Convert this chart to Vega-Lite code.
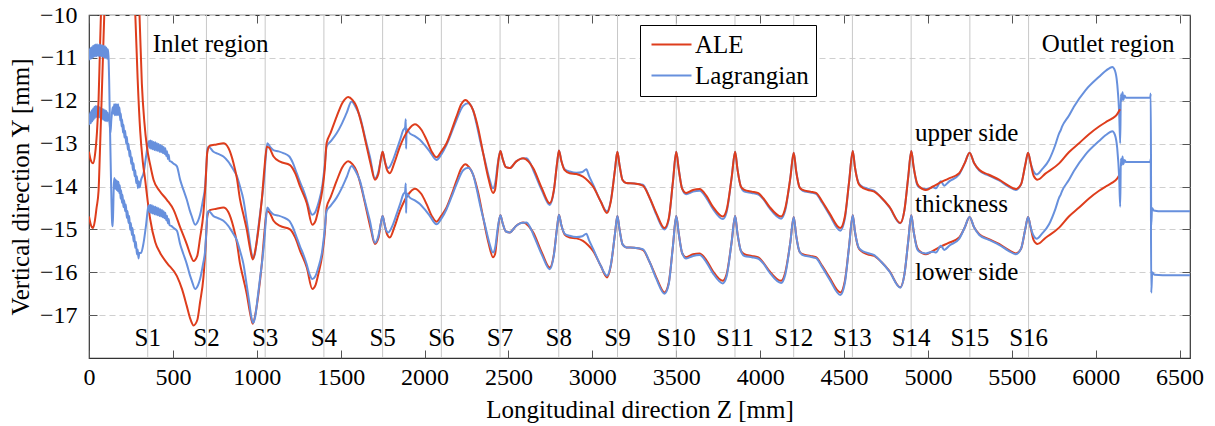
{
"$schema": "https://vega.github.io/schema/vega-lite/v6.json",
"autosize": {"type": "none"},
"padding": {"left": 89, "top": 15, "right": 25, "bottom": 68},
"width": 1101,
"height": 343,
"config": {
  "font": "'Liberation Serif', 'Times New Roman', serif",
  "view": {"stroke": "#333", "strokeWidth": 1.2},
  "axis": {"labelFont": "'Liberation Serif', 'Times New Roman', serif", "titleFont": "'Liberation Serif', 'Times New Roman', serif", "labelFontSize": 24, "titleFontSize": 25, "titleFontWeight": "normal", "labelColor": "#000", "titleColor": "#000", "tickColor": "#555", "domain": false, "grid": false},
  "legend": {"labelFont": "'Liberation Serif', 'Times New Roman', serif"},
  "text": {"font": "'Liberation Serif', 'Times New Roman', serif", "fontSize": 25, "color": "#000"}
},
"datasets": {
"S": [{"z":350,"t":"S1"},{"z":700,"t":"S2"},{"z":1050,"t":"S3"},{"z":1400,"t":"S4"},{"z":1750,"t":"S5"},{"z":2100,"t":"S6"},{"z":2450,"t":"S7"},{"z":2800,"t":"S8"},{"z":3150,"t":"S9"},{"z":3500,"t":"S10"},{"z":3850,"t":"S11"},{"z":4200,"t":"S12"},{"z":4550,"t":"S13"},{"z":4900,"t":"S14"},{"z":5250,"t":"S15"},{"z":5600,"t":"S16"}],
"notesC": [{"z":725,"y":-10.86,"t":"Inlet region"},{"z":6074,"y":-10.86,"t":"Outlet region"}],
"notesL": [{"z":4923,"y":-12.94,"t":"upper side"},{"z":4923,"y":-14.6,"t":"thickness"},{"z":4923,"y":-16.17,"t":"lower side"}],
"lagU": [
{"z":0,"y":-12.30},{"z":4,"y":-12.55},{"z":8,"y":-12.27},{"z":12,"y":-12.52},{"z":16,"y":-12.22},{"z":20,"y":-12.48},{"z":24,"y":-12.18},{"z":28,"y":-12.44},{"z":32,"y":-12.14},{"z":36,"y":-12.40},{"z":40,"y":-12.12},{"z":44,"y":-12.38},{"z":48,"y":-12.12},{"z":52,"y":-12.38},{"z":56,"y":-12.13},{"z":60,"y":-12.39},{"z":64,"y":-12.15},{"z":68,"y":-12.40},{"z":72,"y":-12.17},{"z":76,"y":-12.42},{"z":80,"y":-12.19},{"z":84,"y":-12.44},{"z":88,"y":-12.20},{"z":92,"y":-12.46},{"z":96,"y":-12.22},{"z":100,"y":-12.47},{"z":104,"y":-12.24},{"z":108,"y":-12.48},{"z":112,"y":-12.28},{"z":116,"y":-12.42},{"z":122,"y":-12.5},{"z":128,"y":-12.75},{"z":133,"y":-12.45},{"z":138,"y":-12.25},{"z":142,"y":-12.15},{"z":146,"y":-12.3},{"z":150,"y":-12.08},{"z":154,"y":-12.34},{"z":158,"y":-12.08},{"z":162,"y":-12.34},{"z":166,"y":-12.08},{"z":170,"y":-12.33},{"z":174,"y":-12.08},{"z":178,"y":-12.34},{"z":182,"y":-12.16},{"z":186,"y":-12.46},{"z":190,"y":-12.30},{"z":194,"y":-12.60},{"z":198,"y":-12.44},{"z":202,"y":-12.74},{"z":206,"y":-12.56},{"z":211,"y":-12.86},{"z":216,"y":-12.70},{"z":221,"y":-13.00},{"z":226,"y":-12.84},{"z":231,"y":-13.14},{"z":236,"y":-13.00},{"z":241,"y":-13.30},{"z":246,"y":-13.16},{"z":251,"y":-13.47},{"z":256,"y":-13.32},{"z":261,"y":-13.62},{"z":266,"y":-13.46},{"z":271,"y":-13.76},{"z":276,"y":-13.62},{"z":281,"y":-13.92},{"z":286,"y":-13.76},{"z":291,"y":-14.04},{"z":296,"y":-13.88},{"z":302,"y":-14.02},{"z":310,"y":-13.85},{"z":325,"y":-13.69},{"z":340,"y":-13.3},{"z":352,"y":-13.0},{"z":358,"y":-12.94},{"z":362,"y":-13.10},{"z":366,"y":-12.93},{"z":370,"y":-13.12},{"z":375,"y":-12.94},{"z":380,"y":-13.13},{"z":385,"y":-12.96},{"z":390,"y":-13.15},{"z":395,"y":-12.97},{"z":400,"y":-13.16},{"z":405,"y":-12.99},{"z":410,"y":-13.17},{"z":415,"y":-13.01},{"z":420,"y":-13.19},{"z":425,"y":-13.03},{"z":430,"y":-13.20},{"z":435,"y":-13.05},{"z":440,"y":-13.22},{"z":445,"y":-13.08},{"z":450,"y":-13.24},{"z":455,"y":-13.11},{"z":460,"y":-13.29},{"z":465,"y":-13.18},{"z":470,"y":-13.36},{"z":475,"y":-13.26},{"z":480,"y":-13.40},{"z":490,"y":-13.42},{"z":505,"y":-13.47},{"z":524,"y":-13.53},
{"z":543,"y":-13.84},{"z":563,"y":-14.08},{"z":583,"y":-14.31},{"z":600,"y":-14.55},{"z":613,"y":-14.70},{"z":633,"y":-14.89},{"z":650,"y":-14.80},{"z":662,"y":-14.66},{"z":680,"y":-14.30},{"z":692,"y":-14.0},{"z":700,"y":-13.5},{"z":706,"y":-13.12},{"z":712,"y":-13.07},{"z":742,"y":-13.19},{"z":770,"y":-13.24},{"z":801,"y":-13.30},{"z":830,"y":-13.42},{"z":861,"y":-13.61},{"z":881,"y":-13.75},{"z":900,"y":-14.0},{"z":920,"y":-14.3},{"z":940,"y":-14.8},{"z":955,"y":-15.2},{"z":968,"y":-15.55},{"z":978,"y":-15.68},{"z":990,"y":-15.55},{"z":1005,"y":-15.1},{"z":1020,"y":-14.62},{"z":1035,"y":-14.15},{"z":1045,"y":-13.75},{"z":1055,"y":-13.25},{"z":1063,"y":-12.99},{"z":1080,"y":-13.08},{"z":1099,"y":-13.15},{"z":1130,"y":-13.18},{"z":1158,"y":-13.22},{"z":1194,"y":-13.30},{"z":1215,"y":-13.45},{"z":1238,"y":-13.69},{"z":1258,"y":-13.9},{"z":1277,"y":-14.08},{"z":1297,"y":-14.31},{"z":1315,"y":-14.55},{"z":1331,"y":-14.66},{"z":1348,"y":-14.6},{"z":1367,"y":-14.39},{"z":1390,"y":-14.0},{"z":1405,"y":-13.5},{"z":1416,"y":-13.07},{"z":1440,"y":-12.95},{"z":1476,"y":-12.76},{"z":1505,"y":-12.55},{"z":1535,"y":-12.29},{"z":1565,"y":-12.02},{"z":1590,"y":-12.15},{"z":1615,"y":-12.37},{"z":1645,"y":-12.85},{"z":1674,"y":-13.30},{"z":1704,"y":-13.81},{"z":1725,"y":-13.65},{"z":1740,"y":-13.35},{"z":1750,"y":-13.19},{"z":1765,"y":-13.45},{"z":1784,"y":-13.57},{"z":1810,"y":-13.4},{"z":1833,"y":-13.15},{"z":1855,"y":-12.9},{"z":1873,"y":-12.68},{"z":1884,"y":-12.62},{"z":1888,"y":-12.43},{"z":1890,"y":-13.12},{"z":1893,"y":-12.66},{"z":1912,"y":-12.76},{"z":1940,"y":-12.82},{"z":1972,"y":-12.91},{"z":2000,"y":-13.03},{"z":2032,"y":-13.19},{"z":2071,"y":-13.38},{"z":2100,"y":-13.25},{"z":2131,"y":-13.03},{"z":2160,"y":-12.75},{"z":2190,"y":-12.45},{"z":2230,"y":-12.12},{"z":2260,"y":-12.06},{"z":2289,"y":-12.22},{"z":2309,"y":-12.53},{"z":2335,"y":-13.0},{"z":2359,"y":-13.38},{"z":2385,"y":-13.8},{"z":2408,"y":-14.04},{"z":2422,"y":-13.9},{"z":2435,"y":-13.5},{"z":2452,"y":-13.17},{"z":2465,"y":-13.35},{"z":2485,"y":-13.55},{"z":2508,"y":-13.57},{"z":2545,"y":-13.42},{"z":2575,"y":-13.35},{"z":2607,"y":-13.34},{"z":2625,"y":-13.42},{"z":2647,"y":-13.61},{"z":2700,"y":-14.1},{"z":2746,"y":-14.43},{"z":2770,"y":-14.12},{"z":2790,"y":-13.45},{"z":2801,"y":-13.16},{"z":2815,"y":-13.4},{"z":2835,"y":-13.6},{"z":2865,"y":-13.65},{"z":2905,"y":-13.68},{"z":2940,"y":-13.66},{"z":2964,"y":-13.60},{"z":2980,"y":-13.75},{"z":3004,"y":-13.95},{"z":3050,"y":-14.35},{"z":3087,"y":-14.58},{"z":3110,"y":-14.33},{"z":3135,"y":-13.6},{"z":3149,"y":-13.19},{"z":3162,"y":-13.5},{"z":3180,"y":-13.85},{"z":3202,"y":-13.92},{"z":3250,"y":-13.93},{"z":3301,"y":-13.96},{"z":3340,"y":-14.25},{"z":3381,"y":-14.65},{"z":3430,"y":-15.0},{"z":3455,"y":-14.78},{"z":3480,"y":-13.9},{"z":3500,"y":-13.19},{"z":3515,"y":-13.6},{"z":3535,"y":-14.05},{"z":3559,"y":-14.18},{"z":3600,"y":-14.12},{"z":3639,"y":-14.10},{"z":3680,"y":-14.27},{"z":3718,"y":-14.52},{"z":3778,"y":-14.76},{"z":3800,"y":-14.6},{"z":3830,"y":-13.8},{"z":3851,"y":-13.19},{"z":3865,"y":-13.6},{"z":3885,"y":-14.0},{"z":3906,"y":-14.12},{"z":3950,"y":-14.15},{"z":3986,"y":-14.18},{"z":4020,"y":-14.3},{"z":4055,"y":-14.5},{"z":4125,"y":-14.75},{"z":4150,"y":-14.55},{"z":4180,"y":-13.8},{"z":4200,"y":-13.21},{"z":4215,"y":-13.65},{"z":4235,"y":-14.02},{"z":4254,"y":-14.1},{"z":4300,"y":-14.14},{"z":4333,"y":-14.17},{"z":4370,"y":-14.38},{"z":4413,"y":-14.66},{"z":4478,"y":-15.03},{"z":4505,"y":-14.75},{"z":4530,"y":-13.9},{"z":4552,"y":-13.17},{"z":4565,"y":-13.55},{"z":4585,"y":-13.9},{"z":4601,"y":-13.98},{"z":4640,"y":-14.05},{"z":4680,"y":-14.1},{"z":4720,"y":-14.25},{"z":4770,"y":-14.48},{"z":4835,"y":-14.86},{"z":4860,"y":-14.55},{"z":4882,"y":-13.8},{"z":4901,"y":-13.17},{"z":4915,"y":-13.55},{"z":4935,"y":-13.95},{"z":4948,"y":-14.02},{"z":4988,"y":-14.06},{"z":5030,"y":-14.02},{"z":5048,"y":-14.04},{"z":5077,"y":-13.88},{"z":5097,"y":-13.98},{"z":5127,"y":-13.88},{"z":5186,"y":-13.72},{"z":5220,"y":-13.45},{"z":5248,"y":-13.21},{"z":5275,"y":-13.45},{"z":5306,"y":-13.63},{"z":5360,"y":-13.74},{"z":5424,"y":-13.86},{"z":5480,"y":-14.0},{"z":5524,"y":-14.08},{"z":5555,"y":-13.95},{"z":5580,"y":-13.5},{"z":5597,"y":-13.21},{"z":5612,"y":-13.45},{"z":5630,"y":-13.65},{"z":5648,"y":-13.72},{"z":5680,"y":-13.6},{"z":5722,"y":-13.38},{"z":5760,"y":-13.02},{"z":5782,"y":-12.76},{"z":5790,"y":-12.7},{"z":5800,"y":-12.6},{"z":5840,"y":-12.35},{"z":5870,"y":-12.14},{"z":5940,"y":-11.75},{"z":6020,"y":-11.44},{"z":6060,"y":-11.3},{"z":6099,"y":-11.21},{"z":6115,"y":-11.30},{"z":6128,"y":-11.6},{"z":6140,"y":-12.3},{"z":6146,"y":-12.99},{"z":6150,"y":-11.85},{"z":6155,"y":-12.0},{"z":6160,"y":-11.8},{"z":6165,"y":-11.98},{"z":6172,"y":-11.88},{"z":6180,"y":-11.93},{"z":6325,"y":-11.93},{"z":6328,"y":-11.83},{"z":6331,"y":-14.9},{"z":6336,"y":-14.5},{"z":6345,"y":-14.56},{"z":6400,"y":-14.58},{"z":6562,"y":-14.58}
],
"aleU": [
{"z":0,"y":-13.19},{"z":10,"y":-13.38},{"z":24,"y":-13.46},{"z":36,"y":-13.25},{"z":47,"y":-12.76},{"z":57,"y":-11.98},{"z":64,"y":-11.0},{"z":71,"y":-10.0},{"z":91,"y":-8.5},{"z":130,"y":-6.8},{"z":185,"y":-6.2},{"z":240,"y":-7.0},{"z":276,"y":-8.5},{"z":301,"y":-10.0},{"z":315,"y":-11.6},{"z":330,"y":-12.5},{"z":345,"y":-13.07},{"z":365,"y":-13.5},{"z":385,"y":-13.85},{"z":420,"y":-14.1},{"z":464,"y":-14.31},{"z":505,"y":-14.55},{"z":543,"y":-14.95},{"z":583,"y":-15.35},{"z":605,"y":-15.6},{"z":623,"y":-15.74},
{"z":645,"y":-15.62},{"z":662,"y":-15.2},{"z":682,"y":-14.62},{"z":695,"y":-13.9},{"z":705,"y":-13.2},{"z":720,"y":-13.05},{"z":760,"y":-13.02},{"z":801,"y":-12.99},{"z":831,"y":-13.1},{"z":861,"y":-13.45},{"z":881,"y":-13.8},{"z":900,"y":-14.3},{"z":920,"y":-14.65},{"z":940,"y":-15.0},{"z":960,"y":-15.45},{"z":976,"y":-15.7},{"z":993,"y":-15.45},{"z":1010,"y":-15.0},{"z":1030,"y":-14.3},{"z":1045,"y":-13.6},{"z":1060,"y":-13.07},{"z":1075,"y":-13.1},{"z":1100,"y":-13.3},{"z":1139,"y":-13.42},{"z":1198,"y":-13.5},{"z":1230,"y":-13.7},{"z":1258,"y":-14.0},{"z":1298,"y":-14.39},{"z":1331,"y":-14.89},{"z":1350,"y":-14.8},{"z":1367,"y":-14.54},{"z":1390,"y":-14.1},{"z":1405,"y":-13.6},{"z":1416,"y":-12.99},{"z":1440,"y":-12.75},{"z":1476,"y":-12.37},{"z":1510,"y":-12.05},{"z":1545,"y":-11.91},{"z":1570,"y":-11.98},{"z":1595,"y":-12.14},{"z":1625,"y":-12.55},{"z":1655,"y":-13.07},{"z":1680,"y":-13.5},{"z":1704,"y":-13.84},{"z":1725,"y":-13.7},{"z":1740,"y":-13.35},{"z":1750,"y":-13.19},{"z":1760,"y":-13.35},{"z":1775,"y":-13.6},{"z":1793,"y":-13.69},{"z":1820,"y":-13.45},{"z":1853,"y":-13.07},{"z":1900,"y":-12.7},{"z":1942,"y":-12.55},{"z":1980,"y":-12.67},{"z":2012,"y":-12.91},{"z":2045,"y":-13.2},{"z":2071,"y":-13.32},{"z":2100,"y":-13.18},{"z":2131,"y":-12.99},{"z":2160,"y":-12.7},{"z":2190,"y":-12.37},{"z":2220,"y":-12.07},{"z":2244,"y":-11.98},{"z":2265,"y":-12.05},{"z":2289,"y":-12.22},{"z":2320,"y":-12.65},{"z":2349,"y":-13.22},{"z":2380,"y":-13.8},{"z":2408,"y":-14.15},{"z":2420,"y":-14.08},{"z":2428,"y":-13.84},{"z":2440,"y":-13.4},{"z":2452,"y":-13.17},{"z":2465,"y":-13.35},{"z":2485,"y":-13.55},{"z":2508,"y":-13.57},{"z":2545,"y":-13.42},{"z":2587,"y":-13.34},{"z":2620,"y":-13.42},{"z":2647,"y":-13.57},{"z":2700,"y":-14.05},{"z":2746,"y":-14.39},{"z":2770,"y":-14.1},{"z":2790,"y":-13.45},{"z":2801,"y":-13.16},{"z":2815,"y":-13.4},{"z":2835,"y":-13.62},{"z":2865,"y":-13.69},{"z":2905,"y":-13.71},{"z":2944,"y":-13.77},{"z":2975,"y":-13.87},{"z":3004,"y":-14.0},{"z":3050,"y":-14.35},{"z":3087,"y":-14.62},{"z":3110,"y":-14.35},{"z":3135,"y":-13.6},{"z":3149,"y":-13.19},{"z":3162,"y":-13.5},{"z":3180,"y":-13.85},{"z":3202,"y":-13.92},{"z":3250,"y":-13.93},{"z":3301,"y":-13.98},{"z":3340,"y":-14.25},{"z":3381,"y":-14.62},{"z":3430,"y":-14.97},{"z":3455,"y":-14.75},{"z":3480,"y":-13.9},{"z":3500,"y":-13.19},{"z":3515,"y":-13.6},{"z":3535,"y":-14.05},{"z":3559,"y":-14.15},{"z":3600,"y":-14.08},{"z":3639,"y":-14.06},{"z":3680,"y":-14.22},{"z":3718,"y":-14.47},{"z":3778,"y":-14.70},{"z":3800,"y":-14.55},{"z":3830,"y":-13.8},{"z":3851,"y":-13.19},{"z":3865,"y":-13.6},{"z":3885,"y":-14.0},{"z":3906,"y":-14.08},{"z":3950,"y":-14.12},{"z":3986,"y":-14.15},{"z":4020,"y":-14.28},{"z":4055,"y":-14.47},{"z":4125,"y":-14.70},{"z":4150,"y":-14.5},{"z":4180,"y":-13.8},{"z":4200,"y":-13.21},{"z":4215,"y":-13.65},{"z":4235,"y":-14.02},{"z":4254,"y":-14.08},{"z":4300,"y":-14.12},{"z":4333,"y":-14.15},{"z":4370,"y":-14.35},{"z":4413,"y":-14.62},{"z":4478,"y":-14.97},{"z":4505,"y":-14.7},{"z":4530,"y":-13.9},{"z":4552,"y":-13.17},{"z":4565,"y":-13.55},{"z":4585,"y":-13.92},{"z":4601,"y":-14.0},{"z":4640,"y":-14.08},{"z":4680,"y":-14.12},{"z":4720,"y":-14.25},{"z":4770,"y":-14.47},{"z":4835,"y":-14.85},{"z":4860,"y":-14.55},{"z":4882,"y":-13.8},{"z":4901,"y":-13.17},{"z":4915,"y":-13.55},{"z":4935,"y":-13.92},{"z":4948,"y":-14.0},{"z":4988,"y":-14.08},{"z":5030,"y":-14.0},{"z":5067,"y":-13.92},{"z":5120,"y":-13.82},{"z":5186,"y":-13.69},{"z":5220,"y":-13.45},{"z":5248,"y":-13.21},{"z":5275,"y":-13.45},{"z":5306,"y":-13.61},{"z":5360,"y":-13.72},{"z":5424,"y":-13.84},{"z":5480,"y":-13.98},{"z":5524,"y":-14.06},{"z":5555,"y":-13.95},{"z":5580,"y":-13.5},{"z":5597,"y":-13.21},{"z":5612,"y":-13.45},{"z":5630,"y":-13.75},{"z":5653,"y":-13.84},{"z":5700,"y":-13.7},{"z":5782,"y":-13.46},{"z":5840,"y":-13.2},{"z":5901,"y":-12.99},{"z":5960,"y":-12.78},{"z":6020,"y":-12.60},{"z":6060,"y":-12.5},{"z":6099,"y":-12.41},{"z":6125,"y":-12.33},{"z":6145,"y":-12.20}
],
"aleL": [
{"z":0,"y":-14.70},{"z":10,"y":-14.88},{"z":24,"y":-14.97},{"z":35,"y":-14.8},{"z":45,"y":-14.5},{"z":57,"y":-14.1},{"z":65,"y":-13.2},{"z":75,"y":-12.0},{"z":83,"y":-11.0},{"z":91,"y":-10.0},{"z":110,"y":-8.3},{"z":150,"y":-7.2},{"z":200,"y":-7.3},{"z":250,"y":-8.5},{"z":276,"y":-10.0},{"z":290,"y":-11.5},{"z":305,"y":-12.7},{"z":320,"y":-13.4},{"z":335,"y":-13.85},{"z":350,"y":-14.35},{"z":365,"y":-14.77},{"z":395,"y":-15.3},{"z":424,"y":-15.55},{"z":464,"y":-15.78},{"z":524,"y":-16.09},{"z":555,"y":-16.4},{"z":583,"y":-16.79},{"z":605,"y":-17.1},{"z":623,"y":-17.24},
{"z":645,"y":-17.12},{"z":662,"y":-16.7},{"z":682,"y":-16.12},{"z":695,"y":-15.4},{"z":705,"y":-14.7},{"z":720,"y":-14.55},{"z":760,"y":-14.52},{"z":801,"y":-14.49},{"z":831,"y":-14.6},{"z":861,"y":-14.95},{"z":881,"y":-15.3},{"z":900,"y":-15.8},{"z":920,"y":-16.15},{"z":940,"y":-16.5},{"z":960,"y":-16.95},{"z":976,"y":-17.2},{"z":993,"y":-16.95},{"z":1010,"y":-16.5},{"z":1030,"y":-15.8},{"z":1045,"y":-15.1},{"z":1060,"y":-14.57},{"z":1075,"y":-14.6},{"z":1100,"y":-14.8},{"z":1139,"y":-14.92},{"z":1198,"y":-15.0},{"z":1230,"y":-15.2},{"z":1258,"y":-15.5},{"z":1298,"y":-15.89},{"z":1331,"y":-16.39},{"z":1350,"y":-16.3},{"z":1367,"y":-16.04},{"z":1390,"y":-15.6},{"z":1405,"y":-15.1},{"z":1416,"y":-14.49},{"z":1440,"y":-14.25},{"z":1476,"y":-13.87},{"z":1510,"y":-13.55},{"z":1545,"y":-13.41},{"z":1570,"y":-13.48},{"z":1595,"y":-13.64},{"z":1625,"y":-14.05},{"z":1655,"y":-14.57},{"z":1680,"y":-15.0},{"z":1704,"y":-15.34},{"z":1725,"y":-15.2},{"z":1740,"y":-14.85},{"z":1750,"y":-14.69},{"z":1760,"y":-14.85},{"z":1775,"y":-15.1},{"z":1793,"y":-15.19},{"z":1820,"y":-14.95},{"z":1853,"y":-14.57},{"z":1900,"y":-14.2},{"z":1942,"y":-14.05},{"z":1980,"y":-14.17},{"z":2012,"y":-14.41},{"z":2045,"y":-14.7},{"z":2071,"y":-14.82},{"z":2100,"y":-14.68},{"z":2131,"y":-14.49},{"z":2160,"y":-14.2},{"z":2190,"y":-13.87},{"z":2220,"y":-13.57},{"z":2244,"y":-13.48},{"z":2265,"y":-13.55},{"z":2289,"y":-13.72},{"z":2320,"y":-14.15},{"z":2349,"y":-14.72},{"z":2380,"y":-15.3},{"z":2408,"y":-15.65},{"z":2420,"y":-15.58},{"z":2428,"y":-15.34},{"z":2440,"y":-14.9},{"z":2452,"y":-14.67},{"z":2465,"y":-14.85},{"z":2485,"y":-15.05},{"z":2508,"y":-15.07},{"z":2545,"y":-14.92},{"z":2587,"y":-14.84},{"z":2620,"y":-14.92},{"z":2647,"y":-15.07},{"z":2700,"y":-15.55},{"z":2746,"y":-15.89},{"z":2770,"y":-15.6},{"z":2790,"y":-14.95},{"z":2801,"y":-14.66},{"z":2815,"y":-14.9},{"z":2835,"y":-15.12},{"z":2865,"y":-15.19},{"z":2905,"y":-15.21},{"z":2944,"y":-15.27},{"z":2975,"y":-15.37},{"z":3004,"y":-15.5},{"z":3050,"y":-15.85},{"z":3087,"y":-16.12},{"z":3110,"y":-15.85},{"z":3135,"y":-15.1},{"z":3149,"y":-14.69},{"z":3162,"y":-15.0},{"z":3180,"y":-15.35},{"z":3202,"y":-15.42},{"z":3250,"y":-15.43},{"z":3301,"y":-15.48},{"z":3340,"y":-15.75},{"z":3381,"y":-16.12},{"z":3430,"y":-16.47},{"z":3455,"y":-16.25},{"z":3480,"y":-15.4},{"z":3500,"y":-14.69},{"z":3515,"y":-15.1},{"z":3535,"y":-15.55},{"z":3559,"y":-15.65},{"z":3600,"y":-15.58},{"z":3639,"y":-15.56},{"z":3680,"y":-15.72},{"z":3718,"y":-15.97},{"z":3778,"y":-16.2},{"z":3800,"y":-16.05},{"z":3830,"y":-15.3},{"z":3851,"y":-14.69},{"z":3865,"y":-15.1},{"z":3885,"y":-15.5},{"z":3906,"y":-15.58},{"z":3950,"y":-15.62},{"z":3986,"y":-15.65},{"z":4020,"y":-15.78},{"z":4055,"y":-15.97},{"z":4125,"y":-16.2},{"z":4150,"y":-16.0},{"z":4180,"y":-15.3},{"z":4200,"y":-14.71},{"z":4215,"y":-15.15},{"z":4235,"y":-15.52},{"z":4254,"y":-15.58},{"z":4300,"y":-15.62},{"z":4333,"y":-15.65},{"z":4370,"y":-15.85},{"z":4413,"y":-16.12},{"z":4478,"y":-16.47},{"z":4505,"y":-16.2},{"z":4530,"y":-15.4},{"z":4552,"y":-14.67},{"z":4565,"y":-15.05},{"z":4585,"y":-15.42},{"z":4601,"y":-15.5},{"z":4640,"y":-15.58},{"z":4680,"y":-15.62},{"z":4720,"y":-15.75},{"z":4770,"y":-15.97},{"z":4835,"y":-16.35},{"z":4860,"y":-16.05},{"z":4882,"y":-15.3},{"z":4901,"y":-14.67},{"z":4915,"y":-15.05},{"z":4935,"y":-15.42},{"z":4948,"y":-15.5},{"z":4988,"y":-15.58},{"z":5030,"y":-15.5},{"z":5067,"y":-15.42},{"z":5120,"y":-15.32},{"z":5186,"y":-15.19},{"z":5220,"y":-14.95},{"z":5248,"y":-14.71},{"z":5275,"y":-14.95},{"z":5306,"y":-15.11},{"z":5360,"y":-15.22},{"z":5424,"y":-15.34},{"z":5480,"y":-15.48},{"z":5524,"y":-15.56},{"z":5555,"y":-15.45},{"z":5580,"y":-15.0},{"z":5597,"y":-14.71},{"z":5612,"y":-14.95},{"z":5630,"y":-15.25},{"z":5653,"y":-15.34},{"z":5700,"y":-15.2},{"z":5782,"y":-14.96},{"z":5840,"y":-14.7},{"z":5901,"y":-14.49},{"z":5960,"y":-14.28},{"z":6020,"y":-14.1},{"z":6060,"y":-14.0},{"z":6099,"y":-13.91},{"z":6125,"y":-13.83},{"z":6145,"y":-13.70}
],
"lagL": [
{"z":0,"y":-10.79},{"z":4,"y":-11.04},{"z":8,"y":-10.77},{"z":12,"y":-11.02},{"z":16,"y":-10.75},{"z":20,"y":-11.00},{"z":24,"y":-10.72},{"z":28,"y":-10.98},{"z":32,"y":-10.70},{"z":36,"y":-10.97},{"z":40,"y":-10.69},{"z":44,"y":-10.96},{"z":48,"y":-10.68},{"z":52,"y":-10.95},{"z":56,"y":-10.70},{"z":60,"y":-10.96},{"z":64,"y":-10.68},{"z":68,"y":-10.95},{"z":72,"y":-10.70},{"z":76,"y":-10.97},{"z":80,"y":-10.71},{"z":84,"y":-10.98},{"z":88,"y":-10.72},{"z":92,"y":-10.99},{"z":96,"y":-10.73},{"z":100,"y":-11.00},{"z":104,"y":-10.76},{"z":108,"y":-11.02},{"z":112,"y":-10.80},{"z":116,"y":-10.95},{"z":120,"y":-11.5},{"z":126,"y":-12.8},{"z":132,"y":-14.0},{"z":138,"y":-14.85},{"z":141,"y":-14.93},{"z":144,"y":-14.6},{"z":148,"y":-13.95},{"z":152,"y":-13.80},{"z":156,"y":-14.05},{"z":160,"y":-13.84},{"z":164,"y":-14.08},{"z":168,"y":-13.87},{"z":172,"y":-14.11},{"z":176,"y":-13.89},{"z":180,"y":-14.15},{"z":184,"y":-13.97},{"z":188,"y":-14.28},{"z":192,"y":-14.09},{"z":196,"y":-14.38},{"z":200,"y":-14.19},{"z":205,"y":-14.48},{"z":210,"y":-14.32},{"z":215,"y":-14.58},{"z":220,"y":-14.42},{"z":225,"y":-14.73},{"z":230,"y":-14.57},{"z":235,"y":-14.85},{"z":240,"y":-14.69},{"z":245,"y":-15.01},{"z":250,"y":-14.85},{"z":255,"y":-15.13},{"z":260,"y":-14.97},{"z":265,"y":-15.28},{"z":270,"y":-15.13},{"z":275,"y":-15.43},{"z":280,"y":-15.29},{"z":285,"y":-15.58},{"z":290,"y":-15.47},{"z":295,"y":-15.68},{"z":300,"y":-15.55},{"z":310,"y":-15.55},{"z":325,"y":-15.32},{"z":340,"y":-14.9},{"z":352,"y":-14.5},{"z":358,"y":-14.44},{"z":362,"y":-14.60},{"z":366,"y":-14.43},{"z":370,"y":-14.62},{"z":375,"y":-14.44},{"z":380,"y":-14.63},{"z":385,"y":-14.46},{"z":390,"y":-14.65},{"z":395,"y":-14.47},{"z":400,"y":-14.66},{"z":405,"y":-14.49},{"z":410,"y":-14.67},{"z":415,"y":-14.51},{"z":420,"y":-14.69},{"z":425,"y":-14.53},{"z":430,"y":-14.70},{"z":435,"y":-14.55},{"z":440,"y":-14.72},{"z":445,"y":-14.58},{"z":450,"y":-14.74},{"z":455,"y":-14.61},{"z":460,"y":-14.79},{"z":465,"y":-14.68},{"z":470,"y":-14.86},{"z":475,"y":-14.76},{"z":480,"y":-14.90},{"z":490,"y":-14.92},{"z":505,"y":-14.97},{"z":524,"y":-15.03},
{"z":543,"y":-15.34},{"z":563,"y":-15.58},{"z":583,"y":-15.81},{"z":600,"y":-16.05},{"z":613,"y":-16.20},{"z":633,"y":-16.39},{"z":650,"y":-16.30},{"z":662,"y":-16.16},{"z":680,"y":-15.80},{"z":692,"y":-15.5},{"z":700,"y":-15.0},{"z":706,"y":-14.62},{"z":712,"y":-14.57},{"z":742,"y":-14.69},{"z":770,"y":-14.74},{"z":801,"y":-14.80},{"z":830,"y":-14.92},{"z":861,"y":-15.11},{"z":881,"y":-15.25},{"z":900,"y":-15.5},{"z":920,"y":-15.8},{"z":940,"y":-16.3},{"z":955,"y":-16.7},{"z":968,"y":-17.05},{"z":978,"y":-17.18},{"z":990,"y":-17.05},{"z":1005,"y":-16.6},{"z":1020,"y":-16.12},{"z":1035,"y":-15.65},{"z":1045,"y":-15.25},{"z":1055,"y":-14.75},{"z":1063,"y":-14.49},{"z":1080,"y":-14.58},{"z":1099,"y":-14.65},{"z":1130,"y":-14.68},{"z":1158,"y":-14.72},{"z":1194,"y":-14.80},{"z":1215,"y":-14.95},{"z":1238,"y":-15.19},{"z":1258,"y":-15.4},{"z":1277,"y":-15.58},{"z":1297,"y":-15.81},{"z":1315,"y":-16.05},{"z":1331,"y":-16.16},{"z":1348,"y":-16.1},{"z":1367,"y":-15.89},{"z":1390,"y":-15.5},{"z":1405,"y":-15.0},{"z":1416,"y":-14.57},{"z":1440,"y":-14.45},{"z":1476,"y":-14.26},{"z":1505,"y":-14.05},{"z":1535,"y":-13.79},{"z":1565,"y":-13.52},{"z":1590,"y":-13.65},{"z":1615,"y":-13.87},{"z":1645,"y":-14.35},{"z":1674,"y":-14.80},{"z":1704,"y":-15.31},{"z":1725,"y":-15.15},{"z":1740,"y":-14.85},{"z":1750,"y":-14.69},{"z":1765,"y":-14.95},{"z":1784,"y":-15.07},{"z":1810,"y":-14.9},{"z":1833,"y":-14.65},{"z":1855,"y":-14.4},{"z":1873,"y":-14.18},{"z":1884,"y":-14.12},{"z":1888,"y":-13.93},{"z":1890,"y":-14.62},{"z":1893,"y":-14.16},{"z":1912,"y":-14.26},{"z":1940,"y":-14.32},{"z":1972,"y":-14.41},{"z":2000,"y":-14.53},{"z":2032,"y":-14.69},{"z":2071,"y":-14.88},{"z":2100,"y":-14.75},{"z":2131,"y":-14.53},{"z":2160,"y":-14.25},{"z":2190,"y":-13.95},{"z":2230,"y":-13.62},{"z":2260,"y":-13.56},{"z":2289,"y":-13.72},{"z":2309,"y":-14.03},{"z":2335,"y":-14.5},{"z":2359,"y":-14.88},{"z":2385,"y":-15.3},{"z":2408,"y":-15.54},{"z":2422,"y":-15.4},{"z":2435,"y":-15.0},{"z":2452,"y":-14.67},{"z":2465,"y":-14.85},{"z":2485,"y":-15.05},{"z":2508,"y":-15.07},{"z":2545,"y":-14.92},{"z":2575,"y":-14.85},{"z":2607,"y":-14.84},{"z":2625,"y":-14.92},{"z":2647,"y":-15.11},{"z":2700,"y":-15.6},{"z":2746,"y":-15.93},{"z":2770,"y":-15.62},{"z":2790,"y":-14.95},{"z":2801,"y":-14.66},{"z":2815,"y":-14.9},{"z":2835,"y":-15.1},{"z":2865,"y":-15.15},{"z":2905,"y":-15.18},{"z":2940,"y":-15.16},{"z":2964,"y":-15.10},{"z":2980,"y":-15.25},{"z":3004,"y":-15.45},{"z":3050,"y":-15.85},{"z":3087,"y":-16.08},{"z":3110,"y":-15.83},{"z":3135,"y":-15.1},{"z":3149,"y":-14.69},{"z":3162,"y":-15.0},{"z":3180,"y":-15.35},{"z":3202,"y":-15.42},{"z":3250,"y":-15.43},{"z":3301,"y":-15.46},{"z":3340,"y":-15.75},{"z":3381,"y":-16.15},{"z":3430,"y":-16.5},{"z":3455,"y":-16.28},{"z":3480,"y":-15.4},{"z":3500,"y":-14.69},{"z":3515,"y":-15.1},{"z":3535,"y":-15.55},{"z":3559,"y":-15.68},{"z":3600,"y":-15.62},{"z":3639,"y":-15.60},{"z":3680,"y":-15.77},{"z":3718,"y":-16.02},{"z":3778,"y":-16.26},{"z":3800,"y":-16.1},{"z":3830,"y":-15.3},{"z":3851,"y":-14.69},{"z":3865,"y":-15.1},{"z":3885,"y":-15.5},{"z":3906,"y":-15.62},{"z":3950,"y":-15.65},{"z":3986,"y":-15.68},{"z":4020,"y":-15.8},{"z":4055,"y":-16.0},{"z":4125,"y":-16.25},{"z":4150,"y":-16.05},{"z":4180,"y":-15.3},{"z":4200,"y":-14.71},{"z":4215,"y":-15.15},{"z":4235,"y":-15.52},{"z":4254,"y":-15.6},{"z":4300,"y":-15.64},{"z":4333,"y":-15.67},{"z":4370,"y":-15.88},{"z":4413,"y":-16.16},{"z":4478,"y":-16.53},{"z":4505,"y":-16.25},{"z":4530,"y":-15.4},{"z":4552,"y":-14.67},{"z":4565,"y":-15.05},{"z":4585,"y":-15.4},{"z":4601,"y":-15.48},{"z":4640,"y":-15.55},{"z":4680,"y":-15.6},{"z":4720,"y":-15.75},{"z":4770,"y":-15.98},{"z":4835,"y":-16.36},{"z":4860,"y":-16.05},{"z":4882,"y":-15.3},{"z":4901,"y":-14.67},{"z":4915,"y":-15.05},{"z":4935,"y":-15.45},{"z":4948,"y":-15.52},{"z":4988,"y":-15.56},{"z":5030,"y":-15.52},{"z":5048,"y":-15.54},{"z":5077,"y":-15.38},{"z":5097,"y":-15.48},{"z":5127,"y":-15.38},{"z":5186,"y":-15.22},{"z":5220,"y":-14.95},{"z":5248,"y":-14.71},{"z":5275,"y":-14.95},{"z":5306,"y":-15.13},{"z":5360,"y":-15.24},{"z":5424,"y":-15.36},{"z":5480,"y":-15.5},{"z":5524,"y":-15.58},{"z":5555,"y":-15.45},{"z":5580,"y":-15.0},{"z":5597,"y":-14.71},{"z":5612,"y":-14.95},{"z":5630,"y":-15.15},{"z":5648,"y":-15.22},{"z":5680,"y":-15.1},{"z":5722,"y":-14.88},{"z":5760,"y":-14.52},{"z":5782,"y":-14.26},{"z":5790,"y":-14.2},{"z":5800,"y":-14.1},{"z":5840,"y":-13.85},{"z":5870,"y":-13.64},{"z":5940,"y":-13.25},{"z":6020,"y":-12.94},{"z":6060,"y":-12.8},{"z":6099,"y":-12.71},{"z":6115,"y":-12.80},{"z":6128,"y":-13.1},{"z":6140,"y":-13.8},{"z":6146,"y":-14.47},{"z":6150,"y":-13.35},{"z":6155,"y":-13.5},{"z":6160,"y":-13.3},{"z":6165,"y":-13.48},{"z":6172,"y":-13.38},{"z":6180,"y":-13.43},{"z":6325,"y":-13.43},{"z":6328,"y":-13.35},{"z":6331,"y":-16.48},{"z":6337,"y":-16.0},{"z":6350,"y":-16.06},{"z":6400,"y":-16.07},{"z":6562,"y":-16.07}
]
},
"resolve": {"axis": {"x": "independent", "y": "independent"}},
"layer": [
  {
    "data": {"name": "S"},
    "mark": {"type": "rule", "color": "#c8c8c8", "strokeWidth": 1},
    "encoding": {
      "x": {"field": "z", "type": "quantitative", "scale": {"domain": [0, 6562], "nice": false, "zero": false},
        "axis": {"orient": "bottom", "format": "d", "values": [0,500,1000,1500,2000,2500,3000,3500,4000,4500,5000,5500,6000,6500], "tickSize": -8, "labelPadding": 15, "title": "Longitudinal direction Z [mm]", "titlePadding": 8, "labelFlush": false}}
    }
  },
  {
    "data": {"name": "lagU"},
    "mark": {"type": "line", "clip": true, "interpolate": "monotone", "strokeWidth": 2},
    "encoding": {
      "x": {"field": "z", "type": "quantitative", "axis": {"orient": "top", "values": [0,500,1000,1500,2000,2500,3000,3500,4000,4500,5000,5500,6000,6500], "tickSize": -8, "labels": false, "title": null}},
      "y": {"field": "y", "type": "quantitative", "scale": {"domain": [-18, -10], "nice": false, "zero": false},
        "axis": {"orient": "left", "values": [-17,-16,-15,-14,-13,-12,-11,-10], "tickSize": -8, "labelPadding": 20, "grid": true, "gridColor": "#cfcfcf", "gridDash": [6, 4], "gridWidth": 1, "title": "Vertical direction Y [mm]", "titlePadding": 6, "labelFlush": false}},
      "color": {"datum": "Lagrangian", "type": "nominal", "scale": {"domain": ["ALE", "Lagrangian"], "range": ["#DE3D1C", "#6790DD"]},
        "legend": {"orient": "none", "legendX": 551, "legendY": 10, "title": null, "strokeColor": "#000", "fillColor": "#fff", "padding": 7, "symbolType": "M-2,0L2,0", "symbolSize": 400, "symbolStrokeWidth": 2, "symbolOffset": 12, "labelFont": "'Liberation Serif', 'Times New Roman', serif", "labelFontSize": 25, "labelColor": "#000", "rowPadding": 5, "labelOffset": 11, "labelLimit": 300}}
    }
  },
  {
    "data": {"name": "aleU"},
    "mark": {"type": "line", "clip": true, "interpolate": "monotone", "strokeWidth": 2},
    "encoding": {
      "x": {"field": "z", "type": "quantitative", "axis": null},
      "y": {"field": "y", "type": "quantitative", "axis": {"orient": "right", "values": [-17,-16,-15,-14,-13,-12,-11,-10], "tickSize": -8, "labels": false, "title": null}},
      "color": {"datum": "ALE", "type": "nominal"}
    }
  },
  {
    "data": {"name": "aleL"},
    "mark": {"type": "line", "clip": true, "interpolate": "monotone", "strokeWidth": 2},
    "encoding": {
      "x": {"field": "z", "type": "quantitative", "axis": null},
      "y": {"field": "y", "type": "quantitative", "axis": null},
      "color": {"datum": "ALE", "type": "nominal"}
    }
  },
  {
    "data": {"name": "lagL"},
    "mark": {"type": "line", "clip": true, "interpolate": "monotone", "strokeWidth": 2},
    "encoding": {
      "x": {"field": "z", "type": "quantitative", "axis": null},
      "y": {"field": "y", "type": "quantitative", "axis": null},
      "color": {"datum": "Lagrangian", "type": "nominal"}
    }
  },
  {
    "data": {"name": "S"},
    "mark": {"type": "text", "align": "center", "baseline": "alphabetic", "fontSize": 25},
    "encoding": {
      "x": {"field": "z", "type": "quantitative", "axis": null},
      "y": {"datum": -17.72, "type": "quantitative", "axis": null},
      "text": {"field": "t"}
    }
  },
  {
    "data": {"name": "notesC"},
    "mark": {"type": "text", "align": "center", "baseline": "alphabetic", "fontSize": 25},
    "encoding": {
      "x": {"field": "z", "type": "quantitative", "axis": null},
      "y": {"field": "y", "type": "quantitative", "axis": null},
      "text": {"field": "t"}
    }
  },
  {
    "data": {"name": "notesL"},
    "mark": {"type": "text", "align": "left", "baseline": "alphabetic", "fontSize": 25},
    "encoding": {
      "x": {"field": "z", "type": "quantitative", "axis": null},
      "y": {"field": "y", "type": "quantitative", "axis": null},
      "text": {"field": "t"}
    }
  }
]
}
